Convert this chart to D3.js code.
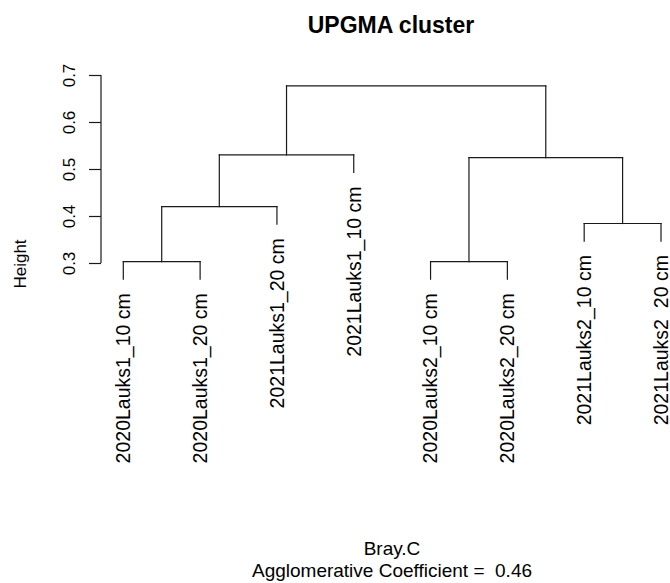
<!DOCTYPE html>
<html>
<head>
<meta charset="utf-8">
<script src="https://cdn.jsdelivr.net/npm/d3@7/dist/d3.min.js"></script>
<style>
  html, body { margin: 0; padding: 0; background: #fff; }
  svg { display: block; }
  text { font-family: "Liberation Sans", Arial, sans-serif; fill: #000; white-space: pre; }
</style>
</head>
<body>
<svg id="chart" width="670" height="583"></svg>
<script>
// ---- data ----
const leafLabels = [
  "2020Lauks1_10 cm", "2020Lauks1_20 cm", "2021Lauks1_20 cm", "2021Lauks1_10 cm",
  "2020Lauks2_10 cm", "2020Lauks2_20 cm", "2021Lauks2_10 cm", "2021Lauks2_20 cm"
];
// R-style merge matrix: negative = leaf (1-based, in plot order), positive = earlier merge row
const merges = [[-1, -2], [-5, -6], [-7, -8], [1, -3], [4, -4], [2, 3], [5, 6]];
const mergeHeights = [0.303, 0.303, 0.384, 0.420, 0.530, 0.524, 0.677];
const yTicks = [0.3, 0.4, 0.5, 0.6, 0.7];
const titleText = "UPGMA cluster";
const subText1 = "Bray.C";
const subText2 = "Agglomerative Coefficient =  0.46";
const yLabel = "Height";
const hangFrac = 0.1;

// ---- drawing ----
const svg = d3.select("#chart");
const x = d3.scaleLinear().domain([0, leafLabels.length - 1]).range([123.3, 661]);
const y = d3.scaleLinear().domain([0.3, 0.7]).range([263, 75]);
const hang = hangFrac * (d3.max(mergeHeights) - d3.min(mergeHeights));

const lineColor = "#1a1a1a";
const g = svg.append("g");

// compute node positions
const nodeX = [], nodeH = mergeHeights.slice();
function childX(c) { return c < 0 ? x(-c - 1) : nodeX[c - 1]; }
merges.forEach((m, i) => { nodeX[i] = (childX(m[0]) + childX(m[1])) / 2; });

const segs = [];
merges.forEach((m, i) => {
  const h = nodeH[i];
  const xl = childX(m[0]), xr = childX(m[1]);
  segs.push([xl, y(h), xr, y(h)]);
  m.forEach(c => {
    const cx = childX(c);
    const ch = c < 0 ? h - hang : nodeH[c - 1];
    segs.push([cx, y(h), cx, y(ch)]);
    if (c < 0) {
      g.append("text")
        .attr("transform", `translate(${cx},${y(ch) + 14}) rotate(-90)`)
        .attr("text-anchor", "end")
        .attr("dy", "0.35em")
        .style("font-size", "19.5px")
        .text(leafLabels[-c - 1]);
    }
  });
});

g.selectAll("line.seg").data(segs).enter().append("line")
  .attr("class", "seg")
  .attr("x1", d => d[0]).attr("y1", d => d[1])
  .attr("x2", d => d[2]).attr("y2", d => d[3])
  .attr("stroke", lineColor).attr("stroke-width", 1.2)
  .attr("stroke-linecap", "square");

// y axis
const axis = d3.axisLeft(y).tickValues(yTicks).tickFormat(d3.format(".1f")).tickSize(12).tickPadding(4);
const ag = svg.append("g").attr("transform", "translate(101,0)").call(axis);
ag.select(".domain").attr("stroke", lineColor).attr("stroke-width", 1.2)
  .attr("d", `M0,${y(0.3)}V${y(0.7)}`);
ag.selectAll(".tick line").attr("stroke", lineColor).attr("stroke-width", 1.2);
ag.selectAll(".tick text")
  .attr("x", null).attr("dy", null)
  .attr("text-anchor", "middle")
  .attr("transform", "translate(-26,0) rotate(-90)")
  .style("font-size", "17px")
  .style("font-family", '"Liberation Sans", Arial, sans-serif')
  .attr("fill", "#000");

// titles
svg.append("text").attr("x", 391).attr("y", 33).attr("text-anchor", "middle")
  .style("font-size", "23px").style("font-weight", "bold").text(titleText);
svg.append("text").attr("x", 392).attr("y", 555).attr("text-anchor", "middle")
  .style("font-size", "19px").text(subText1);
svg.append("text").attr("x", 392).attr("y", 577).attr("text-anchor", "middle")
  .attr("xml:space", "preserve")
  .style("font-size", "19px").text(subText2);
svg.append("text").attr("transform", "translate(26,264) rotate(-90)").attr("text-anchor", "middle")
  .style("font-size", "17px").text(yLabel);
</script>
</body>
</html>
